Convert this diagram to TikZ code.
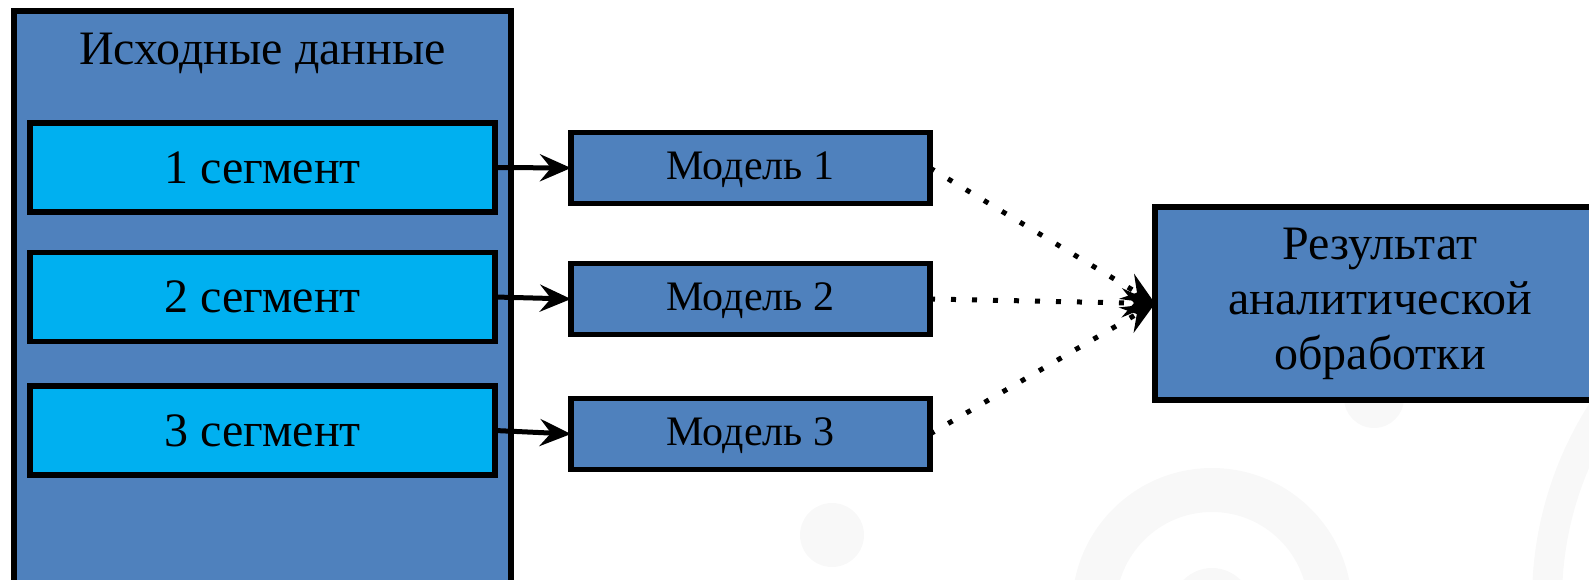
\documentclass[tikz,border=0pt]{standalone}
\usepackage{fontspec}
\setmainfont{Liberation Serif}
\usetikzlibrary{arrows.meta}
\definecolor{boxblue}{HTML}{4F81BD}
\definecolor{segcyan}{HTML}{00B0F0}
\definecolor{wmgray}{HTML}{F8F8F8}

\begin{document}
\begin{tikzpicture}[x=1pt,y=-1pt,
  frame/.style={draw=black, line width=5.5pt, fill=boxblue, rectangle,
    inner sep=0pt, outer sep=0pt},
  bigtext/.style={font=\fontsize{48}{55}\selectfont},
  segbox/.style={frame, bigtext, fill=segcyan, minimum width=465pt, minimum height=89pt},
  modbox/.style={frame, font=\fontsize{42}{48}\selectfont, minimum width=359pt, minimum height=71pt,
    text depth=4pt},
  feed/.style={line width=5pt, -{Stealth[length=31pt,width=27pt,inset=11pt]}},
  merge/.style={line width=5pt, dash pattern=on 5pt off 16pt,
    -{Stealth[length=33pt,width=29pt,inset=12pt]}}
]
\useasboundingbox (0,0) rectangle (1589,580);
\begin{scope}
\clip (0,0) rectangle (1589,580);

% faint decorative rings in the background
\fill[wmgray] (832,535) circle (32pt);
\fill[wmgray, even odd rule] (1212,608) circle (140pt) (1212,608) circle (96pt);
\fill[wmgray] (1212,608) circle (40pt);
\fill[wmgray] (1374,398) circle (30pt);
\fill[wmgray, even odd rule] (1897,600) circle (365pt) (1897,600) circle (335pt);

% source data container
\node[frame, minimum width=497pt, minimum height=620pt, anchor=north west] (src) at (14,11) {};
\node[bigtext] (srctitle) at (262.5,53) {Исходные данные};

% data segments
\node[segbox] (seg1) at (262.5,167.5) {1 сегмент};
\node[segbox] (seg2) at (262.5,297) {2 сегмент};
\node[segbox] (seg3) at (262.5,430.5) {3 сегмент};

% models
\node[modbox] (mod1) at (750.5,168) {Модель 1};
\node[modbox] (mod2) at (750.5,299) {Модель 2};
\node[modbox] (mod3) at (750.5,434) {Модель 3};

% combined result
\node[frame, bigtext, align=center, minimum width=450pt, minimum height=193pt] (res)
  at (1380,303.5) {Результат\\аналитической\\обработки};

% connectors
\draw[feed] (seg1.east) -- (mod1.west);
\draw[feed] (seg2.east) -- (mod2.west);
\draw[feed] (seg3.east) -- (mod3.west);

\draw[merge] (mod1.east) -- (res.west);
\draw[merge] (mod2.east) -- (res.west);
\draw[merge] (mod3.east) -- (res.west);
\end{scope}
\end{tikzpicture}
\end{document}
